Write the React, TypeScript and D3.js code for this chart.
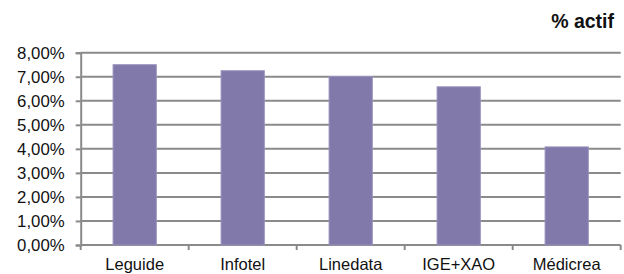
import * as d3 from "d3";
import { useRef, useEffect } from "react";

// categories and values (% of assets)
const companies = ["Leguide", "Infotel", "Linedata", "IGE+XAO", "Médicrea"];
const shares = [7.5, 7.25, 7.01, 6.58, 4.08];
const yTicks = [0, 1, 2, 3, 4, 5, 6, 7, 8];

const width = 624;
const height = 274;
const marginTop = 52.7;
const marginRight = 3.3;
const marginBottom = 29;
const marginLeft = 80.7;

const font = "'Liberation Sans', Arial, sans-serif";
const gridColor = "#8a8a8a";

export default function App() {
  const gx = useRef<SVGGElement | null>(null);
  const gy = useRef<SVGGElement | null>(null);

  const x = d3
    .scaleBand<string>()
    .domain(companies)
    .range([marginLeft, width - marginRight])
    .padding(0);

  const y = d3
    .scaleLinear()
    .domain([0, 8])
    .range([height - marginBottom, marginTop]);

  const barW = x.bandwidth() * 0.4;
  const fmt = (v: number) => v.toFixed(2).replace(".", ",") + "%";

  useEffect(() => {
    if (gy.current) {
      const g = d3.select(gy.current);
      g.call(
        d3
          .axisLeft(y)
          .tickValues(yTicks)
          .tickSize(5)
          .tickPadding(11)
          .tickFormat((d) => fmt(d as number))
      );
      g.select(".domain").attr("stroke", gridColor).attr("stroke-width", 2);
      g.selectAll(".tick line").attr("stroke", gridColor).attr("stroke-width", 2);
      g.selectAll(".tick text")
        .attr("fill", "#111")
        .style("font-family", font)
        .style("font-size", "16.8px");
    }
  }, []);

  useEffect(() => {
    if (gx.current) {
      const g = d3.select(gx.current);
      const edges = companies.map((c) => x(c)!).concat([width - marginRight]);
      g.selectAll("line.tick")
        .data(edges)
        .join("line")
        .attr("class", "tick")
        .attr("x1", (d) => d)
        .attr("x2", (d) => d)
        .attr("y1", 0)
        .attr("y2", 5)
        .attr("stroke", gridColor)
        .attr("stroke-width", 2);
      g.selectAll("text.lbl")
        .data(companies)
        .join("text")
        .attr("class", "lbl")
        .attr("x", (d) => x(d)! + x.bandwidth() / 2)
        .attr("y", 25)
        .attr("text-anchor", "middle")
        .attr("fill", "#111")
        .style("font-family", font)
        .style("font-size", "16.5px")
        .text((d) => d);
    }
  }, []);

  return (
    <svg
      width={width}
      height={height}
      style={{ position: "absolute", left: 0, top: 0, background: "#fff" }}
    >
      {/* gridlines */}
      <g stroke={gridColor} strokeWidth={2}>
        {yTicks.map((t) => (
          <line key={t} x1={marginLeft} x2={width - marginRight} y1={y(t)} y2={y(t)} />
        ))}
      </g>
      {/* bars */}
      <g fill="#8079aa" stroke="#9891bd" strokeWidth={1}>
        {companies.map((c, i) => (
          <rect
            key={c}
            x={x(c)! + (x.bandwidth() - barW) / 2}
            y={y(shares[i])}
            width={barW}
            height={y(0) - y(shares[i])}
          />
        ))}
      </g>
      <g ref={gy} transform={`translate(${marginLeft},0)`} />
      <g ref={gx} transform={`translate(0,${height - marginBottom})`} />
      <text
        x={614}
        y={28}
        textAnchor="end"
        fontFamily={font}
        fontWeight="bold"
        fontSize={19.5}
        fill="#111"
      >
        % actif
      </text>
    </svg>
  );
}
